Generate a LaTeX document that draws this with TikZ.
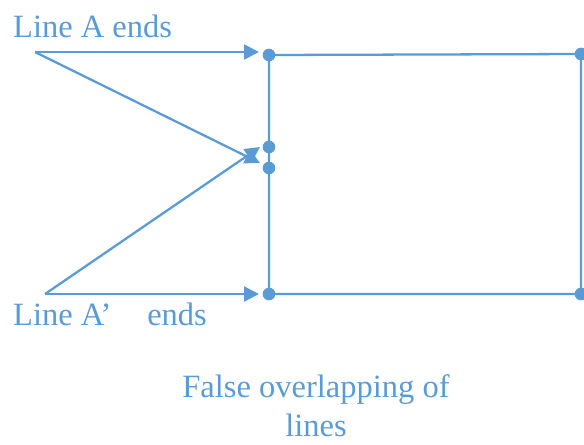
\documentclass[tikz,border=0pt]{standalone}
\usepackage{fontspec}
\setmainfont{Liberation Serif}
\usetikzlibrary{arrows.meta}
\definecolor{lineblue}{HTML}{5B9BD5}

\begin{document}
\begin{tikzpicture}[x=0.02cm,y=-0.02cm,>={Triangle[length=8.5pt,width=8.5pt]},
  line width=1.3pt,draw=lineblue,
  dot/.style={circle,fill=lineblue,inner sep=0pt,minimum size=7.2pt},
  lbl/.style={text=lineblue,font=\fontsize{18.5}{22.7}\selectfont,inner sep=0pt}]
  \useasboundingbox (0,0) rectangle (584,444);
  % box corners and the two dots on its left side
  \node[dot] (tl) at (269,55) {};
  \node[dot] (tr) at (581,54) {};
  \node[dot] (bl) at (269,294) {};
  \node[dot] (br) at (581,294) {};
  \node[dot] (mu) at (269,147) {};
  \node[dot] (ml) at (269,168) {};
  \draw (tl.center) -- (tr.center) -- (br.center) -- (bl.center) -- (tl.center);
  % line A
  \coordinate (aStart) at (35,52);
  \coordinate (aTip) at (259,52);
  \coordinate (aMid) at (260,163);
  \draw[->] (aStart) -- (aTip);
  \draw[->] (aStart) -- (aMid);
  % line A'
  \coordinate (bStart) at (45,294);
  \coordinate (bTip) at (259,294);
  \coordinate (bMid) at (260,147);
  \draw[->] (bStart) -- (bTip);
  \draw[->] (bStart) -- (bMid);
  % labels
  \node[lbl,anchor=base west] (lblA) at (12,37) {Line A ends};
  \node[lbl,anchor=base west] (lblB) at (12,325) {Line A’\hspace{1.1em}ends};
  \node[lbl,align=center,anchor=north] (caption) at (316,373) {False overlapping of\\lines};
\end{tikzpicture}
\end{document}
